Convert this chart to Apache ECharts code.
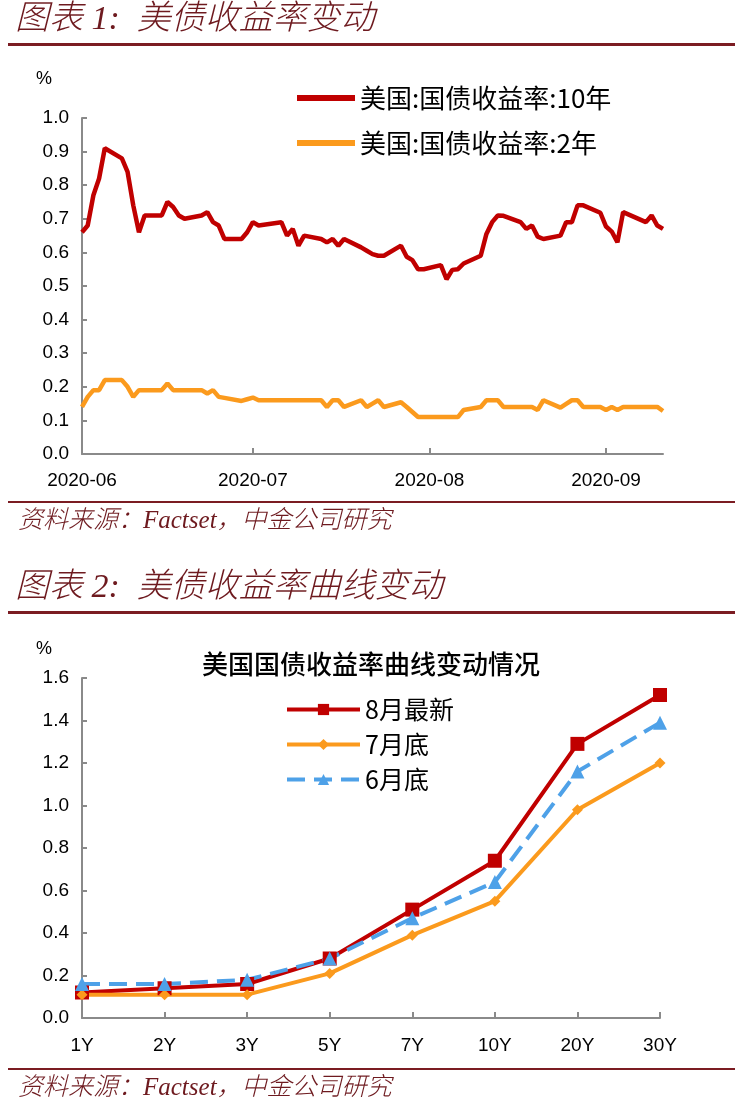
<!DOCTYPE html>
<html>
<head>
<meta charset="utf-8">
<script src="https://cdn.jsdelivr.net/npm/echarts@6/dist/echarts.min.js"></script>
<style>
  html, body { margin: 0; padding: 0; background: #fff; }
  #chart { width: 743px; height: 1109px; }
</style>
</head>
<body>
<div id="chart"></div>
<script>
// Chart 1: daily US Treasury yields (business days, 2020-06-01 .. 2020-09-11)
const dates = [
    '2020-06-01', '2020-06-02', '2020-06-03', '2020-06-04', '2020-06-05',
    '2020-06-08', '2020-06-09', '2020-06-10', '2020-06-11', '2020-06-12',
    '2020-06-15', '2020-06-16', '2020-06-17', '2020-06-18', '2020-06-19',
    '2020-06-22', '2020-06-23', '2020-06-24', '2020-06-25', '2020-06-26',
    '2020-06-29', '2020-06-30',
    '2020-07-01', '2020-07-02',
    '2020-07-06', '2020-07-07', '2020-07-08', '2020-07-09', '2020-07-10',
    '2020-07-13', '2020-07-14', '2020-07-15', '2020-07-16', '2020-07-17',
    '2020-07-20', '2020-07-21', '2020-07-22', '2020-07-23', '2020-07-24',
    '2020-07-27', '2020-07-28', '2020-07-29', '2020-07-30', '2020-07-31',
    '2020-08-03', '2020-08-04', '2020-08-05', '2020-08-06', '2020-08-07',
    '2020-08-10', '2020-08-11', '2020-08-12', '2020-08-13', '2020-08-14',
    '2020-08-17', '2020-08-18', '2020-08-19', '2020-08-20', '2020-08-21',
    '2020-08-24', '2020-08-25', '2020-08-26', '2020-08-27', '2020-08-28',
    '2020-08-31',
    '2020-09-01', '2020-09-02', '2020-09-03', '2020-09-04',
    '2020-09-08', '2020-09-09', '2020-09-10', '2020-09-11'
];
const yield10y = [
    0.66, 0.68, 0.77, 0.82, 0.91,
    0.88, 0.84, 0.74, 0.66, 0.71,
    0.71, 0.75, 0.735, 0.71, 0.70,
    0.71, 0.72, 0.69, 0.68, 0.64,
    0.64, 0.66,
    0.69, 0.68,
    0.69, 0.65, 0.67, 0.62, 0.65,
    0.64, 0.63, 0.64, 0.62, 0.64,
    0.615, 0.605, 0.595, 0.59, 0.59,
    0.62, 0.587, 0.577, 0.55, 0.55,
    0.562, 0.52, 0.548, 0.55, 0.567,
    0.59, 0.655, 0.69, 0.71, 0.709,
    0.69, 0.67, 0.68, 0.647, 0.64,
    0.65, 0.69, 0.69, 0.74, 0.74,
    0.718,
    0.677, 0.662, 0.63, 0.72,
    0.69, 0.71, 0.68, 0.67
];
const yield2y = [
    0.14, 0.17, 0.19, 0.19, 0.22,
    0.22, 0.20, 0.17, 0.19, 0.19,
    0.19, 0.21, 0.19, 0.19, 0.19,
    0.19, 0.18, 0.19, 0.17, 0.167,
    0.158, 0.163,
    0.168, 0.16,
    0.16, 0.16, 0.16, 0.16, 0.16,
    0.16, 0.14, 0.16, 0.16, 0.14,
    0.16, 0.14, 0.15, 0.16, 0.14,
    0.154, 0.14, 0.125, 0.11, 0.11,
    0.11, 0.11, 0.11, 0.11, 0.131,
    0.14, 0.16, 0.16, 0.16, 0.14,
    0.14, 0.14, 0.14, 0.131, 0.16,
    0.138, 0.149, 0.16, 0.16, 0.14,
    0.14,
    0.131, 0.14, 0.131, 0.14,
    0.14, 0.14, 0.14, 0.128
];
const name10y = '美国:国债收益率:10年';
const name2y = '美国:国债收益率:2年';

// Chart 2: yield curve snapshots
const tenors = ['1Y', '2Y', '3Y', '5Y', '7Y', '10Y', '20Y', '30Y'];
const curveAug = [0.12, 0.14, 0.16, 0.28, 0.51, 0.74, 1.29, 1.52];
const curveJul = [0.11, 0.11, 0.11, 0.21, 0.39, 0.55, 0.98, 1.20];
const curveJun = [0.16, 0.16, 0.18, 0.28, 0.47, 0.64, 1.16, 1.39];
const curveNames = ['8月最新', '7月底', '6月底'];

const DARK_RED = '#6e1a1f';
const AXIS_GREY = '#8a8a8a';
const NUM_FONT = 'Liberation Sans, Arial, sans-serif';
const CJK_FONT = 'Noto Sans CJK SC, sans-serif';
const TITLE_FONT = 'Liberation Serif, Noto Sans CJK SC, serif';

const chart = echarts.init(document.getElementById('chart'), null, { renderer: 'canvas' });

function rule(y, w) {
    return { type: 'rect', shape: { x: 8, y: y, width: 727, height: w }, style: { fill: '#7b1c22' }, silent: true };
}
function text(x, y, str, style) {
    return { type: 'text', x: x, y: y, style: Object.assign({ text: str }, style), silent: true };
}

const valueAxisBase = {
    type: 'value',
    min: 0,
    axisLine: { show: true, lineStyle: { color: AXIS_GREY, width: 2 } },
    axisTick: { show: true, inside: true, length: 5, lineStyle: { color: AXIS_GREY, width: 2 } },
    splitLine: { show: false },
    axisLabel: { color: '#000', fontSize: 19, fontFamily: NUM_FONT, margin: 13, formatter: v => v.toFixed(1) }
};

chart.setOption({
    animation: false,
    backgroundColor: '#fff',
    graphic: [
        text(15, 3, '图表 1:  美债收益率变动', { font: 'italic 300 34px ' + TITLE_FONT, fill: DARK_RED }),
        rule(43, 3),
        text(36, 70, '%', { font: '18px ' + NUM_FONT, fill: '#000' }),
        rule(501, 2),
        text(18, 509, '资料来源：Factset，中金公司研究', { font: 'italic 300 25px ' + TITLE_FONT, fill: DARK_RED }),
        text(15, 571, '图表 2:  美债收益率曲线变动', { font: 'italic 300 34px ' + TITLE_FONT, fill: DARK_RED }),
        rule(611, 3),
        text(36, 640, '%', { font: '18px ' + NUM_FONT, fill: '#000' }),
        text(371, 651, '美国国债收益率曲线变动情况', { font: '500 26px ' + CJK_FONT, fill: '#000', align: 'center' }),
        rule(1068, 2),
        text(18, 1076, '资料来源：Factset，中金公司研究', { font: 'italic 300 25px ' + TITLE_FONT, fill: DARK_RED })
    ],
    legend: [
        {
            data: [name10y, name2y],
            orient: 'vertical',
            left: 297,
            top: 85,
            padding: 0,
            icon: 'rect',
            itemWidth: 58,
            itemHeight: 6,
            itemGap: 19,
            textStyle: { fontSize: 26, fontFamily: CJK_FONT, color: '#000' }
        },
        {
            data: curveNames,
            orient: 'vertical',
            left: 285,
            top: 697,
            padding: 0,
            itemWidth: 73,
            itemHeight: 14,
            itemGap: 10,
            lineStyle: { width: 4 },
            textStyle: { fontSize: 25, fontFamily: CJK_FONT, color: '#000' }
        }
    ],
    grid: [
        { left: 82, right: 80, top: 118, bottom: 655 },
        { left: 82, right: 83, top: 678, bottom: 91 }
    ],
    xAxis: [
        {
            type: 'time',
            gridIndex: 0,
            min: '2020-06-01',
            max: '2020-09-11',
            minInterval: 28 * 86400000,
            maxInterval: 31 * 86400000,
            axisLine: { lineStyle: { color: AXIS_GREY, width: 2 } },
            axisTick: { show: true, inside: true, length: 6, lineStyle: { color: AXIS_GREY, width: 2 } },
            splitLine: { show: false },
            axisLabel: {
                color: '#000', fontSize: 19, fontFamily: NUM_FONT, margin: 17,
                showMinLabel: true,
                formatter: '{yyyy}-{MM}'
            }
        },
        {
            type: 'category',
            gridIndex: 1,
            data: tenors,
            boundaryGap: false,
            axisLine: { lineStyle: { color: AXIS_GREY, width: 2 } },
            axisTick: { show: true, inside: true, length: 6, lineStyle: { color: AXIS_GREY, width: 2 } },
            axisLabel: { color: '#000', fontSize: 19, fontFamily: NUM_FONT, margin: 18 }
        }
    ],
    yAxis: [
        Object.assign({}, valueAxisBase, { gridIndex: 0, max: 1.0, interval: 0.1 }),
        Object.assign({}, valueAxisBase, { gridIndex: 1, max: 1.6, interval: 0.2 })
    ],
    series: [
        {
            name: name10y, type: 'line', xAxisIndex: 0, yAxisIndex: 0,
            symbol: 'none', color: '#c00000',
            lineStyle: { width: 4.5, color: '#c00000' },
            data: dates.map((d, i) => [d, yield10y[i]])
        },
        {
            name: name2y, type: 'line', xAxisIndex: 0, yAxisIndex: 0,
            symbol: 'none', color: '#fb9a1d',
            lineStyle: { width: 4.5, color: '#fb9a1d' },
            data: dates.map((d, i) => [d, yield2y[i]])
        },
        {
            name: curveNames[0], type: 'line', xAxisIndex: 1, yAxisIndex: 1,
            symbol: 'rect', symbolSize: 14, color: '#c00000',
            lineStyle: { width: 4, color: '#c00000' },
            itemStyle: { color: '#c00000' },
            data: curveAug
        },
        {
            name: curveNames[1], type: 'line', xAxisIndex: 1, yAxisIndex: 1,
            symbol: 'diamond', symbolSize: 11, color: '#fb9a1d',
            lineStyle: { width: 4, color: '#fb9a1d' },
            itemStyle: { color: '#fb9a1d' },
            data: curveJul
        },
        {
            name: curveNames[2], type: 'line', xAxisIndex: 1, yAxisIndex: 1,
            symbol: 'triangle', symbolSize: 14, color: '#4ea1e8',
            lineStyle: { width: 4, color: '#4ea1e8', type: [18, 9] },
            itemStyle: { color: '#4ea1e8' },
            data: curveJun
        }
    ]
});
</script>
</body>
</html>
